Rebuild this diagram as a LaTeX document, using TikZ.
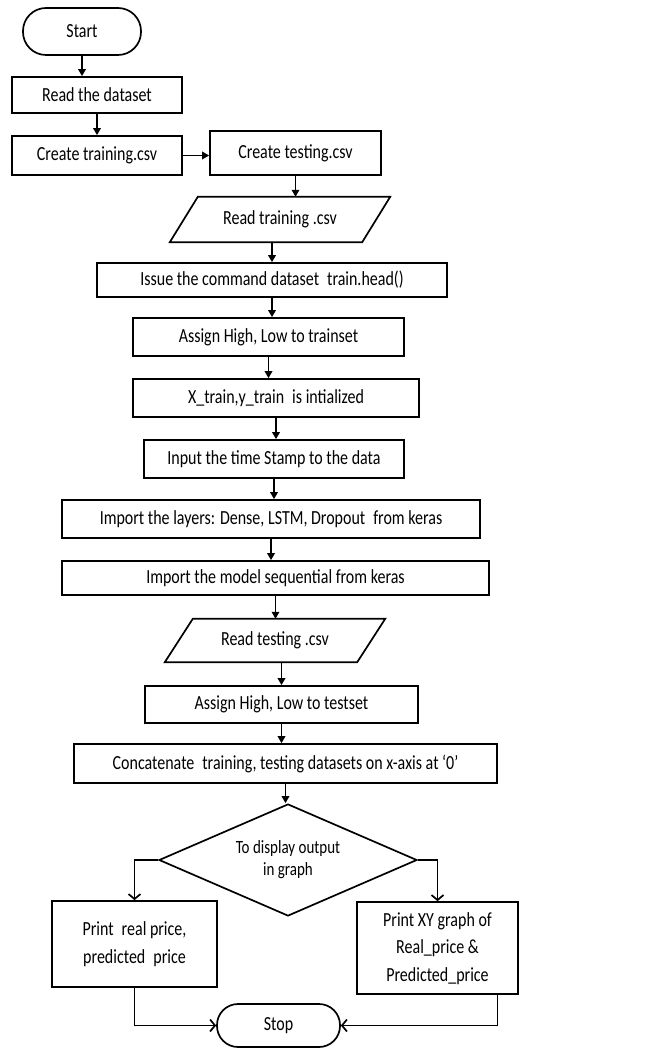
\documentclass[tikz,border=0pt]{standalone}
\usepackage{fontspec}
\usepackage{graphicx}
\setmainfont{Carlito}
\usetikzlibrary{shapes.geometric,arrows.meta,calc}
\newcommand{\vs}[1]{\scalebox{1}[1.25]{#1}}
\begin{document}
\begin{tikzpicture}[x=1pt,y=-1pt,
  lw/.style={line width=1.7pt},
  box/.style={draw,lw,rectangle,inner sep=0pt,font=\fontsize{16}{22}\selectfont,align=center},
  term/.style={box},
  ptext/.style={inner sep=0pt,font=\fontsize{16}{22}\selectfont,minimum width=192pt},
  dec/.style={draw,lw,diamond,inner sep=0pt,aspect=2.3,font=\fontsize{15}{18}\selectfont,align=center},
  arr/.style={lw,-{Triangle[length=7pt,width=7.5pt]}},
  arrb/.style={lw,-{Straight Barb[length=5pt,width=12pt]}}
]
\fill[white] (0,0) rectangle (666,1048);
\useasboundingbox (0,0) rectangle (666,1048);

% nodes
\node[term,rounded corners=23pt,minimum width=118pt,minimum height=47pt] (start) at (82,31.5) {\vs{Start}};
\node[box,minimum width=170pt,minimum height=36pt] (rd) at (97,95) {\vs{Read the dataset}};
\node[box,minimum width=170pt,minimum height=39pt] (ctr) at (97,155.5) {\vs{Create training.csv}};
\node[box,minimum width=171pt,minimum height=44pt] (cte) at (295.5,153) {\vs{Create testing.csv}};
\node[ptext,minimum height=45pt] (rtr) at (280,219.5) {\vs{Read training .csv}};
\draw[lw] ($(rtr.south west)+(-14,0)$) -- ($(rtr.south east)+(-14,0)$) -- ($(rtr.north east)+(14,0)$) -- ($(rtr.north west)+(14,0)$) -- cycle;
\node[box,minimum width=350pt,minimum height=34pt] (ib) at (272,280) {\vs{Issue the command dataset\enspace train.head()}};
\node[box,minimum width=271pt,minimum height=38pt] (atr) at (268.5,337) {\vs{Assign High, Low to trainset}};
\node[box,minimum width=286pt,minimum height=38pt] (xt) at (276,398) {\vs{X\_train,y\_train\enspace is intialized}};
\node[box,minimum width=260pt,minimum height=38pt] (ts) at (274,459) {\vs{Input the time Stamp to the data}};
\node[box,minimum width=418pt,minimum height=38pt] (il) at (271,519) {\vs{Import the layers: Dense, LSTM, Dropout\enspace from keras}};
\node[box,minimum width=427pt,minimum height=34pt] (im) at (275.5,578) {\vs{Import the model sequential from keras}};
\node[ptext,minimum height=43pt] (rte) at (275,640.5) {\vs{Read testing .csv}};
\draw[lw] ($(rte.south west)+(-14,0)$) -- ($(rte.south east)+(-14,0)$) -- ($(rte.north east)+(14,0)$) -- ($(rte.north west)+(14,0)$) -- cycle;
\node[box,minimum width=273pt,minimum height=37pt] (ate) at (281.5,704.5) {\vs{Assign High, Low to testset}};
\node[box,minimum width=423pt,minimum height=39pt] (cc) at (285.5,763.5) {\vs{Concatenate\enspace training, testing datasets on x-axis at ‘0’}};
\node[dec,minimum width=258pt,minimum height=112pt] (dm) at (288,860) {\vs{\begin{tabular}{@{}c@{}}To display output\\in graph\end{tabular}}};
\node[box,minimum width=165pt,minimum height=86pt] (lp) at (134.5,944) {\vs{\begin{tabular}{@{}c@{}}Print\enspace real price,\\predicted\enspace price\end{tabular}}};
\node[box,minimum width=161pt,minimum height=92pt] (rp) at (437.5,948) {\vs{\begin{tabular}{@{}c@{}}Print XY graph of\\Real\_price \&\\Predicted\_price\end{tabular}}};
\node[term,rounded corners=21pt,minimum width=123pt,minimum height=43pt] (stop) at (278.5,1025.5) {\vs{Stop}};
\coordinate (rpo) at ($(rp.south)+(60,0)$);

% connectors
\draw[arr] (start.south) -- (start.south |- rd.north);
\draw[arr] (rd.south) -- (rd.south |- ctr.north);
\draw[arr] (ctr.east) -- (ctr.east -| cte.west);
\draw[arr] (cte.south) -- (cte.south |- rtr.north);
\draw[arr] (rtr.south -| ib.north) -- (ib.north);
\draw[arr] (ib.south) -- (ib.south |- atr.north);
\draw[arr] (atr.south) -- (atr.south |- xt.north);
\draw[arr] (xt.south) -- (xt.south |- ts.north);
\draw[arr] (ts.south) -- (ts.south |- il.north);
\draw[arr] (il.south) -- (il.south |- im.north);
\draw[arr] (im.south) -- (im.south |- rte.north);
\draw[arr] (rte.south -| ate.north) -- (ate.north);
\draw[arr] (ate.south) -- (ate.south |- cc.north);
\draw[arr] (cc.south) -- (cc.south |- dm.north);
\draw[arrb] (dm.west) -| (lp.north);
\draw[arrb] (dm.east) -| (rp.north);
\draw[arrb] (lp.south) |- (stop.west);
\draw[arrb] (rpo) |- (stop.east);
\end{tikzpicture}
\end{document}
